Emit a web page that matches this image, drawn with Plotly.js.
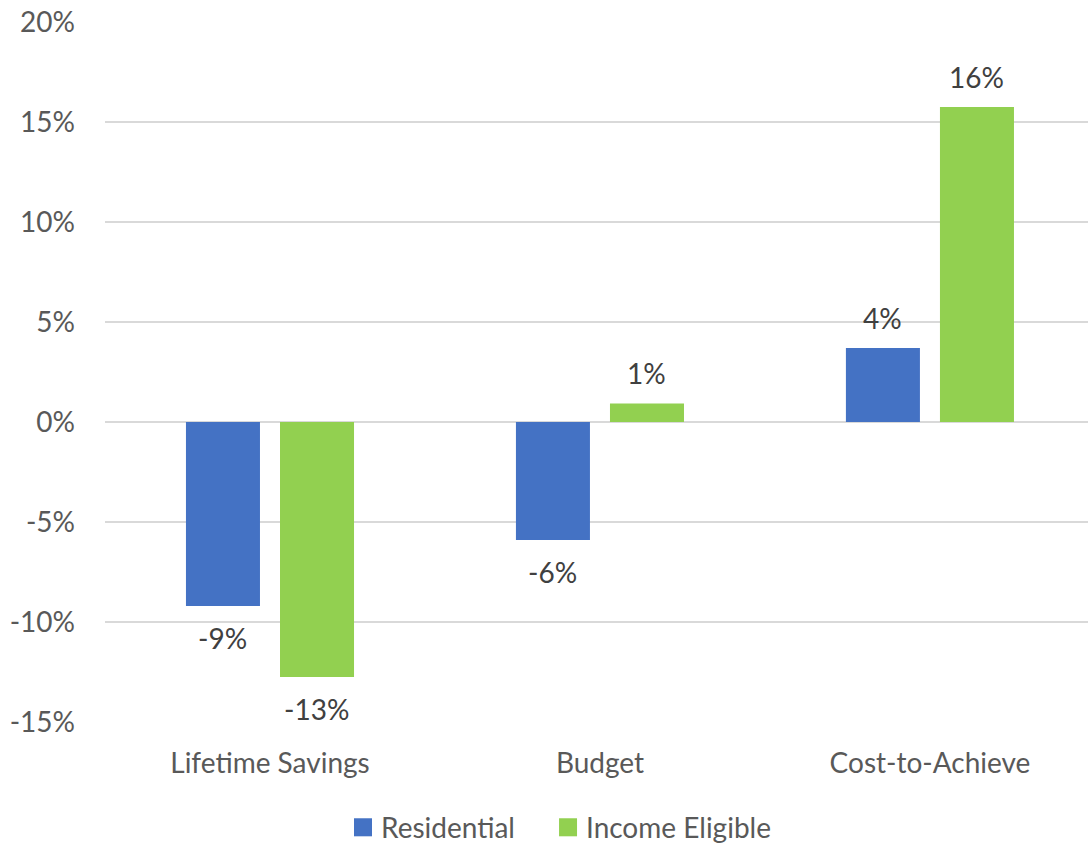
<!DOCTYPE html>
<html>
<head>
<meta charset="utf-8">
<script src="https://cdn.plot.ly/plotly-3.0.1.min.js"></script>
<style>html,body{margin:0;padding:0;background:#fff;}#chart{width:1088px;height:843px;}</style>
</head>
<body>
<div id="chart"></div>
<script>
const categories = ["Lifetime Savings", "Budget", "Cost-to-Achieve"];
const residential = [-9.2, -5.9, 3.7];
const incomeEligible = [-12.75, 0.93, 15.75];
const seriesNames = ["Residential", "Income Eligible"];
const seriesColors = ["#4472C4", "#92D050"];
const yTickValues = [-15, -10, -5, 0, 5, 10, 15, 20];
const yTickLabels = ["-15%", "-10%", "-5%", "0%", "5%", "10%", "15%", "20%"];

const FONT = "Lato, 'Open Sans', sans-serif";
const FS = 28;

const seriesData = [residential, incomeEligible];

const traces = seriesData.map((vals, i) => ({
  type: "bar", name: seriesNames[i], x: categories, y: vals,
  marker: {color: seriesColors[i]},
  showlegend: false, hoverinfo: "skip"
}));

// Data labels as annotations anchored on the bar ends through the axes
const annotations = [];
const xOffsets = [-47, 47];
seriesData.forEach((vals, i) => {
  vals.forEach((v, j) => {
    annotations.push({
      x: categories[j], y: v, xref: "x", yref: "y",
      text: Math.round(v) + "%", showarrow: false,
      xshift: xOffsets[i], yshift: v >= 0 ? 30 : -32,
      xanchor: "center", yanchor: "middle",
      font: {family: FONT, size: FS, color: "#404040"}
    });
  });
});

// Custom legend (larger swatches as in the reference)
const legendSwatchX = [[0.2533, 0.2716], [0.4619, 0.4802]];
const legendTextX = [0.2788, 0.4873];
const shapes = [];
seriesNames.forEach((n, i) => {
  shapes.push({type: "rect", xref: "paper", yref: "paper",
    x0: legendSwatchX[i][0], x1: legendSwatchX[i][1], y0: -0.1614, y1: -0.1357,
    fillcolor: seriesColors[i], line: {width: 0}});
  annotations.push({xref: "paper", yref: "paper", x: legendTextX[i], y: -0.1486,
    xanchor: "left", yanchor: "middle", showarrow: false, text: n,
    font: {family: FONT, size: FS, color: "#595959"}});
});

const layout = {
  width: 1088, height: 843,
  margin: {l: 105, r: 0, t: 21, b: 120, autoexpand: false},
  paper_bgcolor: "#fff", plot_bgcolor: "#fff",
  font: {family: FONT, color: "#595959", size: FS},
  barmode: "group", bargap: 0.43, bargroupgap: 0.213,
  showlegend: false,
  xaxis: {type: "category", range: [-0.5, 2.479], showgrid: false, showline: false, zeroline: false,
          ticks: "", ticklabelstandoff: 21,
          tickfont: {family: FONT, size: FS, color: "#595959"}},
  yaxis: {range: [-15.05, 20.05], tickvals: yTickValues, ticktext: yTickLabels,
          showgrid: true, gridcolor: "#D9D9D9", gridwidth: 1.5,
          zeroline: true, zerolinecolor: "#D9D9D9", zerolinewidth: 1.5,
          showline: false, ticks: "", ticklabelstandoff: 29,
          tickfont: {family: FONT, size: FS, color: "#595959"}},
  annotations: annotations,
  shapes: shapes
};

Plotly.newPlot("chart", traces, layout, {displayModeBar: false, staticPlot: true});
</script>
</body>
</html>
